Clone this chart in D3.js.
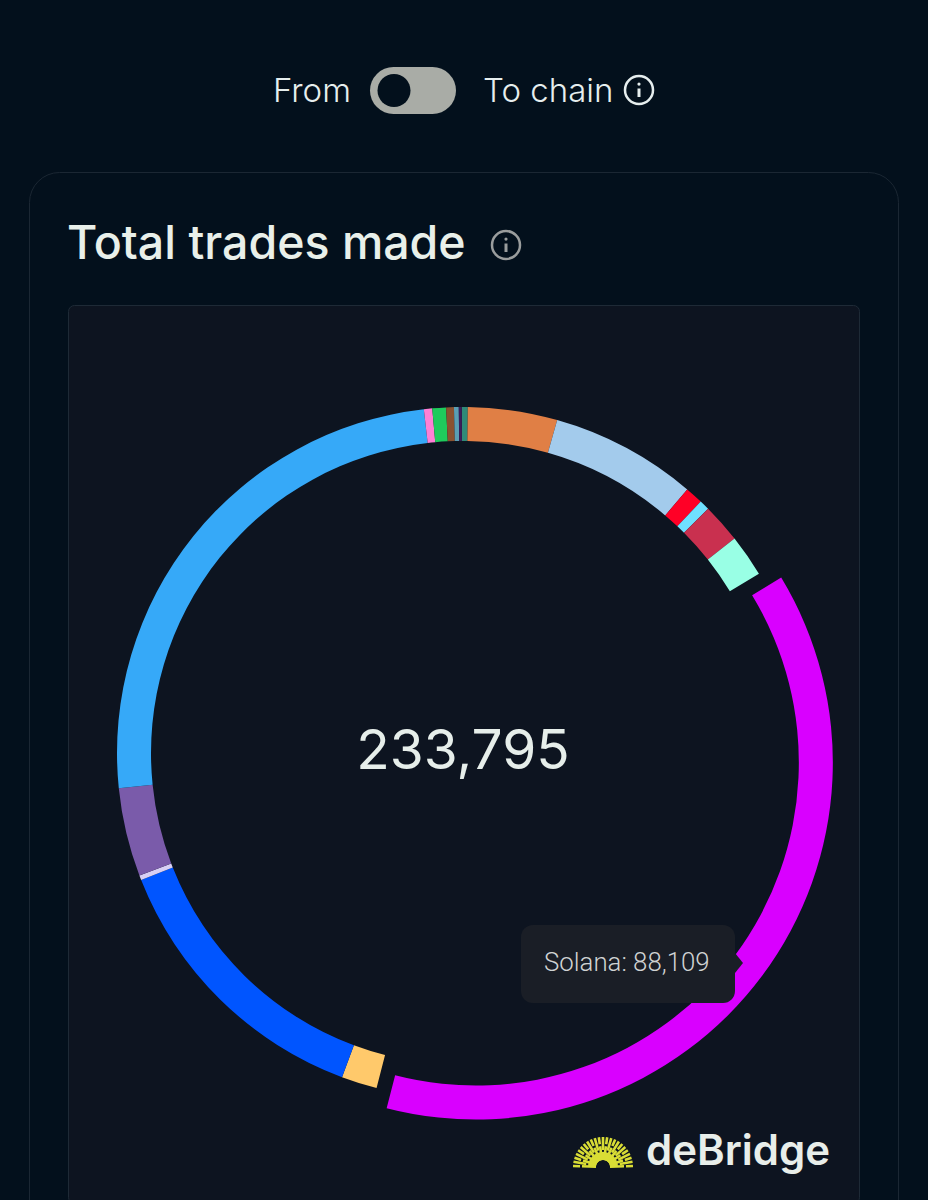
<!DOCTYPE html>
<html>
<head>
<meta charset="utf-8">
<script src="https://cdn.jsdelivr.net/npm/d3@7"></script>
<style>
  html, body { margin: 0; background: #03101c; }
  svg { display: block; }
  text { font-family: Inter, sans-serif; }
</style>
</head>
<body>
<svg id="chart" width="928" height="1200"></svg>
<script>
// Only Solana is named in the picture, the rest are unlabelled slices
const chains = ['Chain 1', 'Chain 2', 'Chain 3', 'Chain 4', 'Chain 5', 'Chain 6', 'Chain 7', 'Solana', 'Chain 9',
  'Chain 10', 'Chain 11', 'Chain 12', 'Chain 13', 'Chain 14', 'Chain 15', 'Chain 16', 'Chain 17', 'Chain 18'];
const trades = [649, 9741, 15975, 1948, 1104, 4286, 4611, 88109, 3896,
  31171, 520, 9676, 58017, 909, 1494, 844, 520, 325];
const colors = ['#2f8a78', '#e07f45', '#a3cbec', '#ff0026', '#6fe0ff', '#c9304f', '#99ffe5', '#d900ff', '#ffc96b',
  '#0055ff', '#d8cff5', '#7a5baa', '#36a9f8', '#ff80d5', '#1fcb5c', '#8a5230', '#5a9fb5', '#3b1c5a'];

const CX = 463;
const CY = 753;
const OUTER = 346;
const INNER = 312;
const SLICE_OFFSET = 16; // hovered slice moves out along its mid angle
const SLICE_GROW = 11;   // and gets a bigger radius
const RAD = Math.PI / 180;

const data = chains.map((name, i) => ({ name, count: trades[i] }));
const total = d3.sum(trades);
const fmt = d3.format(',');

const svg = d3.select('#chart');

// card + chart panel
svg.append('rect').attr('width', 928).attr('height', 1200).attr('fill', '#03101c');
svg.append('rect').attr('x', 29.5).attr('y', 172.5).attr('width', 869).attr('height', 1100).attr('rx', 30)
  .attr('fill', '#03101c').attr('stroke', '#1b2733');
svg.append('rect').attr('x', 68.5).attr('y', 305.5).attr('width', 791).attr('height', 898).attr('rx', 6)
  .attr('fill', '#0d1420').attr('stroke', '#1e2a36');

function infoIcon(x, y, r, color) {
  const g = svg.append('g').attr('transform', `translate(${x},${y})`).attr('stroke', color).attr('fill', 'none');
  g.append('circle').attr('r', r).attr('stroke-width', 2.5);
  g.append('line').attr('y1', -1.5).attr('y2', r * 0.5).attr('stroke-width', 3);
  g.append('circle').attr('cy', -r * 0.42).attr('r', 1.6).attr('fill', color).attr('stroke', 'none');
}

// header
svg.append('text').attr('x', 273).attr('y', 102).attr('font-size', 33).attr('font-weight', 300).attr('fill', '#e6eeee').text('From');
svg.append('rect').attr('x', 370).attr('y', 67).attr('width', 86).attr('height', 47).attr('rx', 23.5).attr('fill', '#a9aca6');
svg.append('circle').attr('cx', 394).attr('cy', 90.5).attr('r', 16.5).attr('fill', '#03101c');
svg.append('text').attr('x', 483).attr('y', 102).attr('font-size', 33).attr('font-weight', 300).attr('fill', '#e6eeee').text('To chain');
infoIcon(639, 90, 14, '#e6eeee');

svg.append('text').attr('x', 67).attr('y', 259).attr('font-size', 46.5).attr('font-weight', 500).attr('fill', '#e9f0ea').text('Total trades made');
infoIcon(506, 245, 14, '#9a9d9d');

// donut
const pie = d3.pie().sort(null).value(d => d.count).startAngle(-0.2 * RAD).endAngle(359.8 * RAD);
const arc = d3.arc().innerRadius(INNER).outerRadius(OUTER);
const hoverArc = d3.arc().innerRadius(INNER + SLICE_GROW).outerRadius(OUTER + SLICE_GROW);

function sliceShift(d) {
  if (d.data.name !== 'Solana') return null;
  const mid = (d.startAngle + d.endAngle) / 2;
  return `translate(${SLICE_OFFSET * Math.sin(mid)},${-SLICE_OFFSET * Math.cos(mid)})`;
}

svg.append('g')
  .attr('transform', `translate(${CX},${CY})`)
  .selectAll('path')
  .data(pie(data))
  .join('path')
  .attr('fill', (d, i) => colors[i])
  .attr('transform', sliceShift)
  .attr('d', d => d.data.name === 'Solana' ? hoverArc(d) : arc(d));

svg.append('text').attr('x', CX).attr('y', 769).attr('text-anchor', 'middle')
  .attr('font-size', 55).attr('fill', '#e6eeea').text(fmt(total));

// tooltip
svg.append('path').attr('d', 'M735 953 L743 963 L735 973 Z').attr('fill', '#1a1e26');
svg.append('rect').attr('x', 521).attr('y', 925).attr('width', 214).attr('height', 78).attr('rx', 12).attr('fill', '#1a1e26');
svg.append('text').attr('x', 544).attr('y', 971).attr('font-size', 25.8).attr('font-weight', 300)
  .style('font-family', 'Roboto, sans-serif')
  .attr('fill', '#d0d3d3').text(`Solana: ${fmt(trades[chains.indexOf('Solana')])}`);

// logo
const logo = svg.append('g').attr('transform', 'translate(603,1167)');
logo.selectAll('line')
  .data(d3.range(-88, 89, 8))
  .join('line')
  .attr('x1', d => 7 * Math.sin(d * RAD)).attr('y1', d => -7 * Math.cos(d * RAD))
  .attr('x2', d => 30 * Math.sin(d * RAD)).attr('y2', d => -30 * Math.cos(d * RAD))
  .attr('stroke', '#d9dd35').attr('stroke-width', 2.6)
  .attr('stroke-dasharray', (d, i) => i % 2 ? '8 2 13' : '14 2 7');
svg.append('text').attr('x', 646).attr('y', 1165).attr('font-size', 42).attr('font-weight', 600)
  .attr('fill', '#e8eeea').text('deBridge');
</script>
</body>
</html>
